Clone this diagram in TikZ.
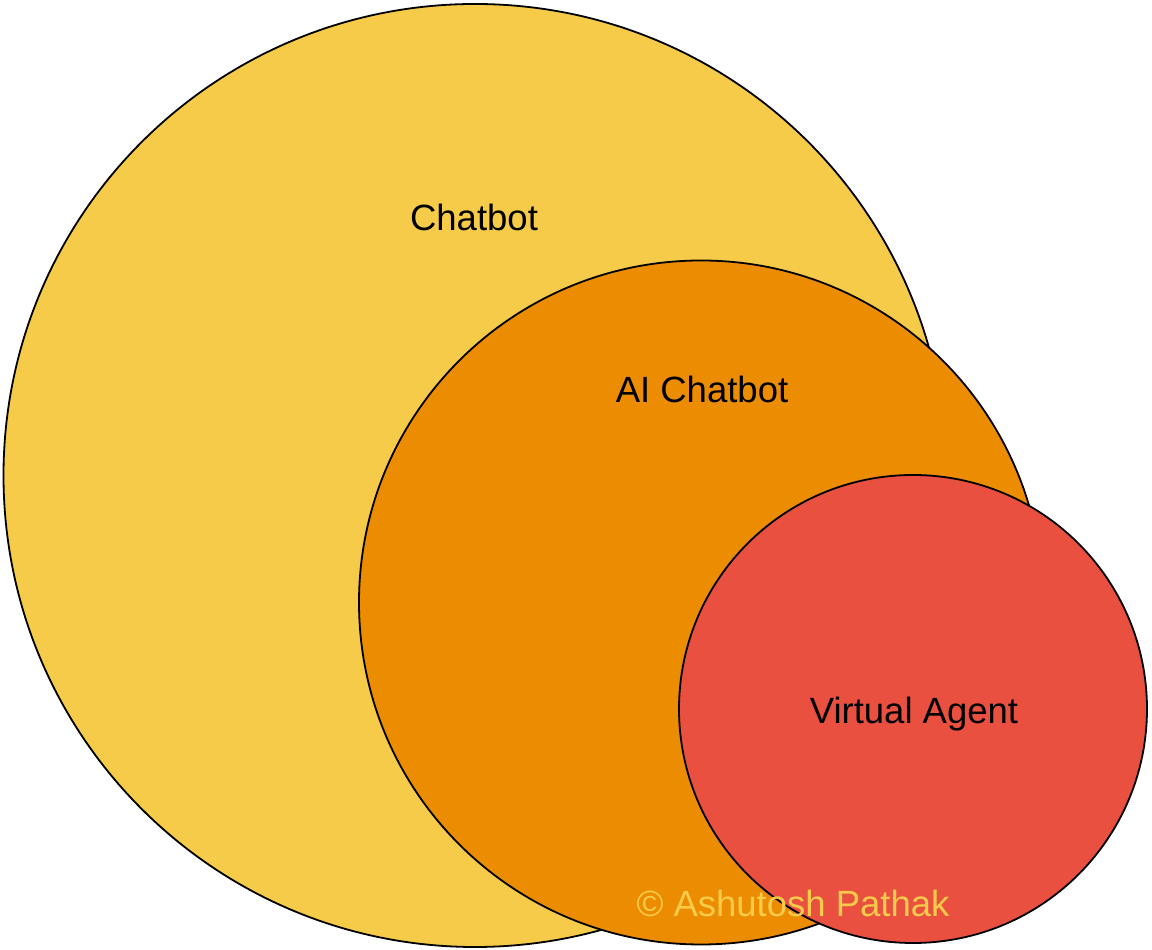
\documentclass[tikz,border=0pt]{standalone}
\usepackage{fontspec}
\setmainfont{Liberation Sans}
\usepackage{xcolor}
\usetikzlibrary{positioning}

\definecolor{chatyellow}{HTML}{F6CB4A}
\definecolor{aiorange}{HTML}{EC8C00}
\definecolor{agentred}{HTML}{EA5040}

\begin{document}
\begin{tikzpicture}[x=1pt,y=1pt,
    set/.style={circle,draw=black,line width=1.8pt,inner sep=0pt},
    setname/.style={font=\fontsize{36.5}{42}\selectfont,text=black},
    owner/.style={font=\fontsize{36.5}{42}\selectfont,text=chatyellow}]
      \useasboundingbox (0,0) rectangle (1152,950);
      \node[set,fill=chatyellow,minimum size=943pt] (chatbot) at (475,474.5) {};
      \node[set,fill=aiorange,minimum size=684pt] (ai) at (701,347.5) {};
      \node[set,fill=agentred,minimum size=468pt] (agent) at (913,241) {};

      \node[setname] (chatbotname) at (474,733) {Chatbot};
      \node[setname] (ainame) at (702,561) {AI Chatbot};
      \node[setname] (agentname) at (914,236) {Virtual Agent};
      \node[owner] (ownername) at (793,47) {© Ashutosh Pathak};
\end{tikzpicture}
\end{document}
